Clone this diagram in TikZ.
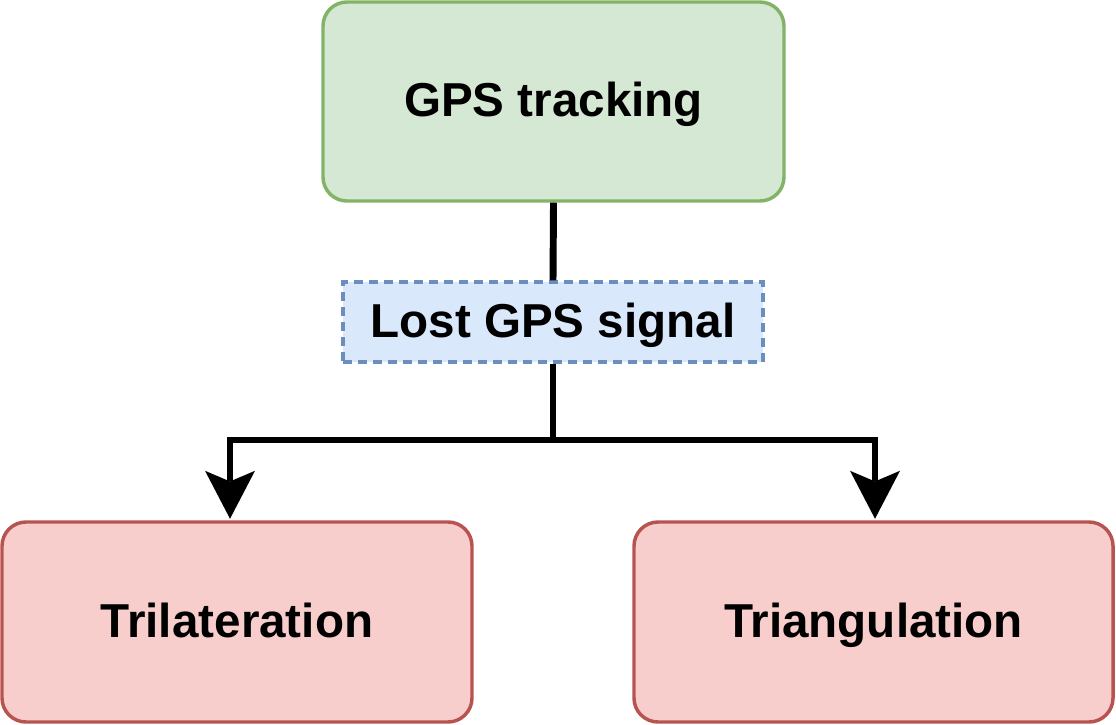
\documentclass[tikz,border=0pt]{standalone}
\usepackage{fontspec}
\setmainfont{Liberation Sans}
\usepackage{tikz}
\usetikzlibrary{calc,arrows.meta}
\definecolor{greenfill}{HTML}{D5E8D4}
\definecolor{greenline}{HTML}{82B366}
\definecolor{redfill}{HTML}{F8CECC}
\definecolor{redline}{HTML}{B85450}
\definecolor{bluefill}{HTML}{DAE8FC}
\definecolor{blueline}{HTML}{6C8EBF}

\begin{document}
\begin{tikzpicture}[
    x=0.75pt, y=-0.75pt,
    box/.style={rectangle, rounded corners=18pt, line width=2.6pt, inner sep=0pt,
                align=center, text height=25.6pt, text depth=3pt,
                font=\fontsize{35.7}{42}\selectfont\bfseries},
    trackbox/.style={box, draw=greenline, fill=greenfill},
    methodbox/.style={box, draw=redline, fill=redfill},
    eventbox/.style={rectangle, draw=blueline, fill=bluefill, line width=2.6pt,
                dash pattern=on 6.75pt off 4.5pt, inner sep=0pt,
                text height=25.6pt, text depth=3pt,
                font=\fontsize{35.7}{42}\selectfont\bfseries},
    arrow/.style={-{Stealth[length=36pt, width=37.5pt, inset=8pt, line width=0pt]},
                line width=5.2pt, color=black}
  ]
    \useasboundingbox (0,0) rectangle (1116,724);

    \node[trackbox, minimum width=345.75pt, minimum height=149.25pt] (gps) at (553.5,101.5) {GPS tracking};
    \node[eventbox, minimum width=315pt, minimum height=60pt] (lost) at (553,322) {Lost GPS signal};
    \node[methodbox, minimum width=352.5pt, minimum height=150pt] (tri) at (237,622) {Trilateration};
    \node[methodbox, minimum width=359.25pt, minimum height=150pt] (tng) at (873.5,622) {Triangulation};

    \coordinate (split) at (553,440);

    \draw[line width=5.2pt] (gps.south) -- (lost.north);
    \draw[line width=5.2pt] (lost.south) -- (split);
    \draw[arrow] (split) -| ($(tri.north)+(-7,-1.5)$);
    \draw[arrow] (split) -| ($(tng.north)+(1.5,-1.5)$);
  \end{tikzpicture}
\end{document}
